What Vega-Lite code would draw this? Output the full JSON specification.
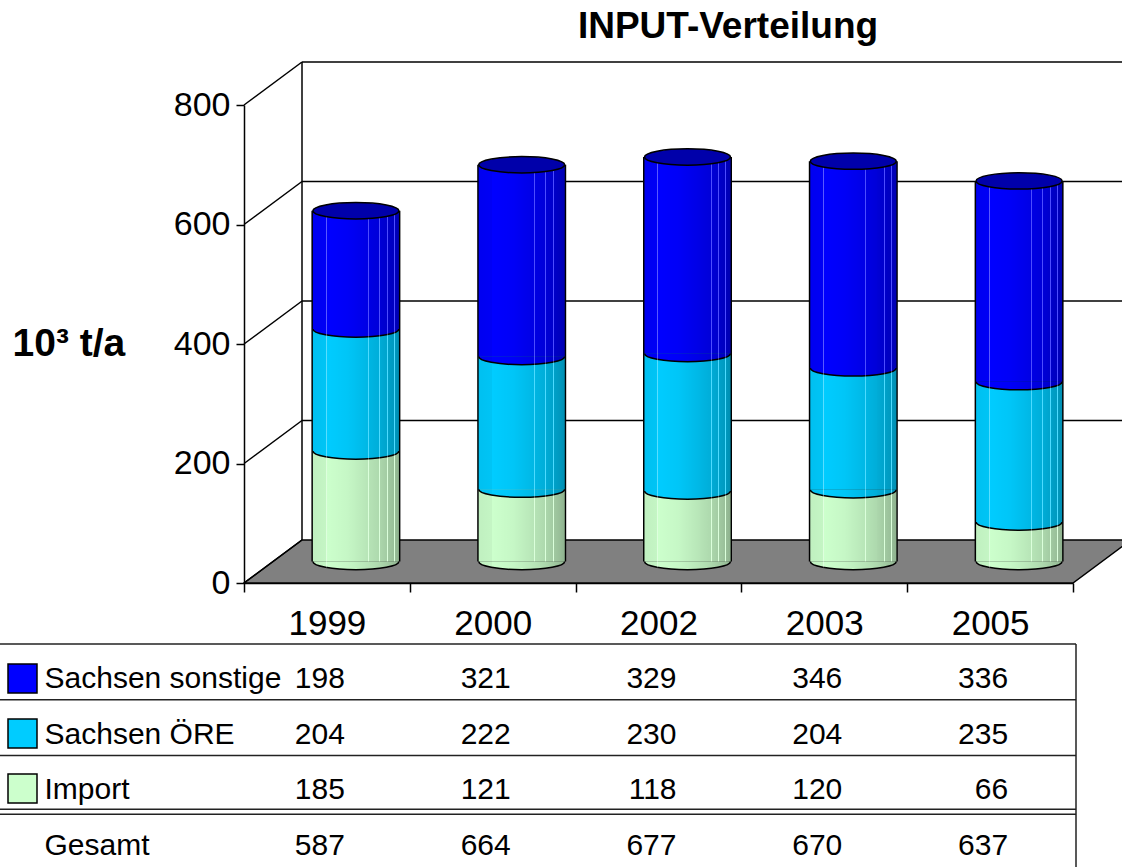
{
  "$schema": "https://vega.github.io/schema/vega-lite/v6.json",
  "width": 829,
  "height": 523,
  "autosize": {"type": "none"},
  "padding": {"left": 244, "top": 60, "right": 49, "bottom": 284},
  "background": "white",
  "config": {
    "font": "Liberation Sans",
    "view": {"stroke": null},
    "axis": {"labelColor": "black", "titleColor": "black", "domainColor": "black", "tickColor": "black", "grid": false}
  },
  "title": {"text": "INPUT-Verteilung", "fontSize": 37, "fontWeight": "bold", "color": "black", "frame": "group", "anchor": "middle", "dx": 69.5, "dy": 42, "baseline": "alphabetic", "offset": 27},
  "datasets": {
    "input": [
      {"year": "1999", "series": "Import", "value": 185},
      {"year": "1999", "series": "Sachsen ÖRE", "value": 204},
      {"year": "1999", "series": "Sachsen sonstige", "value": 198},
      {"year": "1999", "series": "Gesamt", "value": 587},
      {"year": "2000", "series": "Import", "value": 121},
      {"year": "2000", "series": "Sachsen ÖRE", "value": 222},
      {"year": "2000", "series": "Sachsen sonstige", "value": 321},
      {"year": "2000", "series": "Gesamt", "value": 664},
      {"year": "2002", "series": "Import", "value": 118},
      {"year": "2002", "series": "Sachsen ÖRE", "value": 230},
      {"year": "2002", "series": "Sachsen sonstige", "value": 329},
      {"year": "2002", "series": "Gesamt", "value": 677},
      {"year": "2003", "series": "Import", "value": 120},
      {"year": "2003", "series": "Sachsen ÖRE", "value": 204},
      {"year": "2003", "series": "Sachsen sonstige", "value": 346},
      {"year": "2003", "series": "Gesamt", "value": 670},
      {"year": "2005", "series": "Import", "value": 66},
      {"year": "2005", "series": "Sachsen ÖRE", "value": 235},
      {"year": "2005", "series": "Sachsen sonstige", "value": 336},
      {"year": "2005", "series": "Gesamt", "value": 637}
    ],
    "ticks": [{"tick": 0}, {"tick": 200}, {"tick": 400}, {"tick": 600}, {"tick": 800}]
  },
  "data": {"name": "input"},
  "resolve": {"scale": {"x": "independent", "y": "independent"}},
  "layer": [
    {
      "layer": [
        {
          "data": {"values": [{"k": 1}]},
          "mark": {"type": "point", "shape": "M -1 0.04848 L 0.86922 0.04848 L 1 -0.04848 L -0.86922 -0.04848 Z", "size": 786769, "filled": true, "fill": "#808080", "stroke": "black", "strokeWidth": 1.5, "opacity": 1, "xOffset": 29, "yOffset": -21.5},
          "encoding": {
            "x": {"datum": "2002", "type": "ordinal"},
            "y": {"datum": 0, "type": "quantitative"}
          }
        },
        {
          "data": {"name": "ticks"},
          "transform": [{"filter": "datum.tick > 0"}],
          "mark": {"type": "rule", "xOffset": 58, "x2Offset": 58, "yOffset": -43, "color": "black", "strokeWidth": 1.5},
          "encoding": {
            "x": {"datum": "1999", "type": "ordinal", "bandPosition": 0},
            "x2": {"datum": "2005", "bandPosition": 1},
            "y": {"field": "tick", "type": "quantitative"}
          }
        },
        {
          "data": {"name": "ticks"},
          "mark": {"type": "rule", "x2Offset": 58, "y2Offset": -43, "color": "black", "strokeWidth": 1.5},
          "encoding": {
            "x": {"datum": "1999", "type": "ordinal", "bandPosition": 0},
            "x2": {"datum": "1999", "bandPosition": 0},
            "y": {"field": "tick", "type": "quantitative"},
            "y2": {"field": "tick"}
          }
        },
        {
          "data": {"values": [{"k": 1}]},
          "mark": {"type": "rule", "xOffset": 58, "yOffset": -43, "y2Offset": -43, "color": "black", "strokeWidth": 1.5},
          "encoding": {
            "x": {"datum": "1999", "type": "ordinal", "bandPosition": 0},
            "y": {"datum": 0, "type": "quantitative"},
            "y2": {"datum": 800}
          }
        },
        {
          "transform": [{"filter": "datum.series === 'Gesamt'"}],
          "mark": {"type": "bar", "width": 89, "color": "black", "xOffset": 29, "x2Offset": 29, "yOffset": -21.5, "y2Offset": -21.5},
          "encoding": {
            "x": {"field": "year", "type": "ordinal"},
            "y": {"field": "value", "type": "quantitative"},
            "y2": {"datum": 0}
          }
        },
        {
          "transform": [
            {"filter": "datum.series !== 'Gesamt'"},
            {"stack": "value", "groupby": ["year"], "as": ["v0", "v1"]}
          ],
          "mark": {"type": "bar", "width": 86, "xOffset": 29, "x2Offset": 29, "yOffset": -21.5, "y2Offset": -21.5, "opacity": 1},
          "encoding": {
            "x": {
              "field": "year", "type": "ordinal",
              "scale": {"type": "band", "domain": ["1999", "2000", "2002", "2003", "2005"], "paddingInner": 0, "paddingOuter": 0},
              "axis": {"title": null, "tickBand": "extent", "tickSize": 9, "tickWidth": 1.5, "domainWidth": 1.5, "labelFontSize": 35, "labelAngle": 0, "labelAlign": "center", "labelBaseline": "alphabetic", "labelPadding": 42}
            },
            "y": {
              "field": "v1", "type": "quantitative",
              "scale": {"domain": [0, 800], "range": [523, 45], "nice": false},
              "axis": {"values": [0, 200, 400, 600, 800], "tickSize": 8, "tickWidth": 1.5, "domainWidth": 1.5, "labelFontSize": 34, "labelPadding": 6, "title": "10³ t/a", "titleAngle": 0, "titleFontSize": 39, "titleFontWeight": "bold", "titleX": -232, "titleY": 295, "titleAlign": "left", "titleBaseline": "alphabetic"}
            },
            "y2": {"field": "v0"},
            "color": {
              "field": "series", "type": "nominal",
              "scale": {"domain": ["Sachsen sonstige", "Sachsen ÖRE", "Import"], "range": ["#0000FF", "#00CCFF", "#CCFFCC"]},
              "legend": {"orient": "none", "legendX": -237, "legendY": 603, "direction": "vertical", "title": null, "symbolType": "square", "symbolSize": 841, "symbolStrokeColor": "#333333", "symbolStrokeWidth": 1.5, "symbolOpacity": 1, "labelExpr": "''", "labelFontSize": 1, "rowPadding": 20, "padding": 0}
            }
          }
        },
        {
          "transform": [
            {"filter": "datum.series !== 'Gesamt'"},
            {"stack": "value", "groupby": ["year"], "as": ["v0", "v1"]}
          ],
          "mark": {"type": "point", "shape": "M -1 0 A 1 0.19 0 0 0 1 0", "size": 7396, "filled": true, "opacity": 1, "stroke": "black", "strokeWidth": 1.5, "xOffset": 29, "yOffset": -21.5},
          "encoding": {
            "x": {"field": "year", "type": "ordinal"},
            "y": {"field": "v0", "type": "quantitative"},
            "color": {"field": "series", "type": "nominal"}
          }
        },
        {
          "transform": [{"filter": "datum.series === 'Gesamt'"}],
          "mark": {
            "type": "bar", "width": 86, "xOffset": 29, "x2Offset": 29, "yOffset": -21.5, "y2Offset": -21.5,
            "fill": {"gradient": "linear", "x1": 0, "x2": 1, "y1": 0, "y2": 0, "stops": [
              {"offset": 0, "color": "rgba(0,0,0,0.06)"},
              {"offset": 0.15, "color": "rgba(0,0,0,0.04)"},
              {"offset": 0.15, "color": "rgba(255,255,255,0.35)"},
              {"offset": 0.16, "color": "rgba(255,255,255,0.35)"},
              {"offset": 0.16, "color": "rgba(0,0,0,0)"},
              {"offset": 0.4, "color": "rgba(0,0,0,0.03)"},
              {"offset": 0.64, "color": "rgba(0,0,0,0.1)"},
              {"offset": 0.64, "color": "rgba(255,255,255,0.3)"},
              {"offset": 0.65, "color": "rgba(255,255,255,0.3)"},
              {"offset": 0.65, "color": "rgba(0,0,0,0.11)"},
              {"offset": 0.77, "color": "rgba(0,0,0,0.15)"},
              {"offset": 0.77, "color": "rgba(255,255,255,0.3)"},
              {"offset": 0.78, "color": "rgba(255,255,255,0.3)"},
              {"offset": 0.78, "color": "rgba(0,0,0,0.16)"},
              {"offset": 0.86, "color": "rgba(0,0,0,0.2)"},
              {"offset": 0.86, "color": "rgba(255,255,255,0.3)"},
              {"offset": 0.87, "color": "rgba(255,255,255,0.3)"},
              {"offset": 0.87, "color": "rgba(0,0,0,0.21)"},
              {"offset": 0.94, "color": "rgba(0,0,0,0.25)"},
              {"offset": 0.94, "color": "rgba(255,255,255,0.3)"},
              {"offset": 0.95, "color": "rgba(255,255,255,0.3)"},
              {"offset": 0.95, "color": "rgba(0,0,0,0.26)"},
              {"offset": 1, "color": "rgba(0,0,0,0.3)"}
            ]}
          },
          "encoding": {
            "x": {"field": "year", "type": "ordinal"},
            "y": {"field": "value", "type": "quantitative"},
            "y2": {"datum": 0}
          }
        },
        {
          "transform": [{"filter": "datum.series === 'Gesamt'"}],
          "mark": {
            "type": "point", "shape": "M -1 0 A 1 0.19 0 0 0 1 0", "size": 7396, "filled": true, "opacity": 1, "strokeWidth": 0, "xOffset": 29, "yOffset": -21.5,
            "fill": {"gradient": "linear", "x1": 0, "x2": 1, "y1": 0, "y2": 0, "stops": [
              {"offset": 0, "color": "rgba(0,0,0,0.06)"},
              {"offset": 0.15, "color": "rgba(0,0,0,0.04)"},
              {"offset": 0.15, "color": "rgba(255,255,255,0.35)"},
              {"offset": 0.16, "color": "rgba(255,255,255,0.35)"},
              {"offset": 0.16, "color": "rgba(0,0,0,0)"},
              {"offset": 0.4, "color": "rgba(0,0,0,0.03)"},
              {"offset": 0.64, "color": "rgba(0,0,0,0.1)"},
              {"offset": 0.77, "color": "rgba(0,0,0,0.15)"},
              {"offset": 0.86, "color": "rgba(0,0,0,0.2)"},
              {"offset": 0.94, "color": "rgba(0,0,0,0.25)"},
              {"offset": 1, "color": "rgba(0,0,0,0.3)"}
            ]}
          },
          "encoding": {
            "x": {"field": "year", "type": "ordinal"},
            "y": {"datum": 0, "type": "quantitative"}
          }
        },
        {
          "transform": [{"filter": "datum.series === 'Gesamt'"}],
          "mark": {"type": "point", "shape": "M -1 0 A 1 0.19 0 1 0 1 0 A 1 0.19 0 1 0 -1 0 Z", "size": 7396, "filled": true, "fill": "#0000AA", "opacity": 1, "stroke": "black", "strokeWidth": 1.5, "xOffset": 29, "yOffset": -21.5},
          "encoding": {
            "x": {"field": "year", "type": "ordinal"},
            "y": {"field": "value", "type": "quantitative"}
          }
        }
      ]
    },
    {
      "layer": [
        {
          "transform": [
            {"filter": "datum.series !== 'Gesamt'"},
            {"aggregate": [{"op": "count", "as": "n"}], "groupby": ["series"]}
          ],
          "mark": {"type": "rule", "xOffset": -244, "x2Offset": 3, "color": "#222222", "strokeWidth": 1.5},
          "encoding": {
            "x": {"datum": "1999", "type": "ordinal", "bandPosition": 0, "axis": null},
            "x2": {"datum": "2005", "bandPosition": 1},
            "y": {"field": "series", "type": "nominal", "bandPosition": 0}
          }
        },
        {
          "transform": [
            {"filter": "datum.series === 'Gesamt'"},
            {"aggregate": [{"op": "count", "as": "n"}], "groupby": ["series"]}
          ],
          "mark": {"type": "rule", "xOffset": -244, "x2Offset": 3, "yOffset": -2, "y2Offset": -2, "color": "#222222", "strokeWidth": 1.5},
          "encoding": {
            "x": {"datum": "1999", "type": "ordinal", "bandPosition": 0, "axis": null},
            "x2": {"datum": "2005", "bandPosition": 1},
            "y": {"field": "series", "type": "nominal", "bandPosition": 0}
          }
        },
        {
          "transform": [
            {"filter": "datum.series === 'Gesamt'"},
            {"aggregate": [{"op": "count", "as": "n"}], "groupby": ["series"]}
          ],
          "mark": {"type": "rule", "xOffset": -244, "x2Offset": 3, "yOffset": 3, "y2Offset": 3, "color": "#222222", "strokeWidth": 1.5},
          "encoding": {
            "x": {"datum": "1999", "type": "ordinal", "bandPosition": 0, "axis": null},
            "x2": {"datum": "2005", "bandPosition": 1},
            "y": {"field": "series", "type": "nominal", "bandPosition": 0}
          }
        },
        {
          "data": {"values": [{"k": 1}]},
          "mark": {"type": "rule", "xOffset": 3, "color": "#222222", "strokeWidth": 1.5},
          "encoding": {
            "x": {"datum": "2005", "type": "ordinal", "bandPosition": 1, "axis": null},
            "y": {"datum": "Sachsen sonstige", "type": "nominal", "bandPosition": 0},
            "y2": {"datum": "Gesamt", "bandPosition": 1}
          }
        },
        {
          "mark": {"type": "text", "align": "right", "dx": 18, "dy": 16, "baseline": "alphabetic", "fontSize": 30, "color": "black"},
          "encoding": {
            "x": {"field": "year", "type": "ordinal", "scale": {"type": "band", "domain": ["1999", "2000", "2002", "2003", "2005"], "paddingInner": 0, "paddingOuter": 0}, "axis": null},
            "y": {
              "field": "series", "type": "nominal",
              "scale": {"type": "band", "domain": ["Sachsen sonstige", "Sachsen ÖRE", "Import", "Gesamt"], "range": [584, 807], "paddingInner": 0, "paddingOuter": 0},
              "axis": {"orient": "left", "title": null, "domain": false, "ticks": false, "tickSize": 0, "labelAlign": "left", "labelPadding": 200, "labelFontSize": 30, "labelBaseline": "alphabetic", "labelOffset": 16, "labelLimit": 0}
            },
            "text": {"field": "value", "type": "quantitative"}
          }
        }
      ]
    }
  ]
}
